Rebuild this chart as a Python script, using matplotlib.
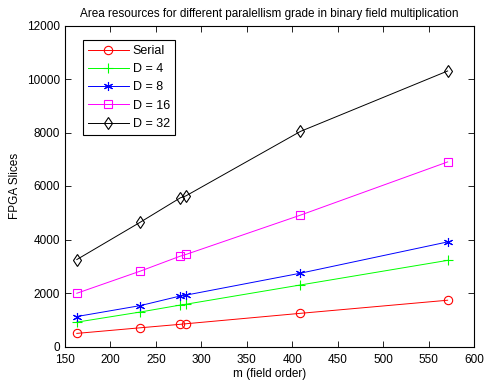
import matplotlib
matplotlib.use("Agg")
import matplotlib.pyplot as plt

m = [163, 233, 277, 283, 409, 571]
serial = [490, 700, 830, 850, 1240, 1730]
d4 = [910, 1290, 1550, 1580, 2300, 3220]
d8 = [1120, 1530, 1890, 1920, 2740, 3910]
d16 = [1990, 2820, 3380, 3440, 4910, 6900]
d32 = [3250, 4650, 5560, 5630, 8040, 10300]

series = [
    ("Serial", serial, "r", "o", 6),
    ("D = 4", d4, "#00ff00", "+", 7),
    ("D = 8", d8, "b", (6, 2, 0), 6.5),
    ("D = 16", d16, "#ff00ff", "s", 5.5),
    ("D = 32", d32, "k", "d", 6.5),
]

plt.rcParams['font.family'] = ['Liberation Sans', 'DejaVu Sans']
fig = plt.figure(figsize=(4.85, 3.83), dpi=100)
ax = fig.add_axes([65/485, 1-346.5/383, 409/485, 321/383])

for name, vals, c, mk, ms in series:
    ax.plot(m, vals, color=c, marker=mk, markerfacecolor='none', markeredgecolor=c,
            markersize=ms, linewidth=0.7, markeredgewidth=0.8, label=name)

ax.set_xlim(150, 600)
ax.set_ylim(0, 12000)
ax.set_xticks(range(150, 601, 50))
ax.set_yticks(range(0, 12001, 2000))
ax.tick_params(direction='in', top=True, right=True, labelsize=8.5, length=4, width=0.6)
ax.tick_params(axis='x', pad=5.5)
for s in ax.spines.values():
    s.set_linewidth(0.8)
ax.set_xlabel("m (field order)", fontsize=8.5, labelpad=1)
ax.set_ylabel("FPGA Slices", fontsize=8.5, labelpad=4)
ax.set_title("Area resources for different paralellism grade in binary field multiplication", fontsize=8.5, pad=6)
leg = ax.legend(loc='upper left', bbox_to_anchor=(0.043, 0.955), fontsize=9, fancybox=False,
                edgecolor='k', framealpha=1, borderpad=0.4, labelspacing=0.5, handlelength=3.3,
                handletextpad=0.3, borderaxespad=0)
leg.get_frame().set_linewidth(0.8)

fig.savefig("out.png", dpi=100)
